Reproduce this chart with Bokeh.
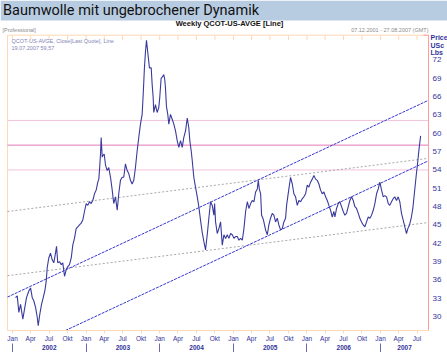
import math
import datetime as dt
from bokeh.plotting import figure
from bokeh.models import Range1d, LinearAxis, FixedTicker, Label, BoxAnnotation
from bokeh.core.properties import value
from bokeh.embed import file_html
from bokeh.resources import INLINE

# ---------------- data ----------------
title_text = "Baumwolle mit ungebrochener Dynamik"
subtitle_text = "Weekly QCOT-US-AVGE [Line]"
left_note = "[Professional]"
range_note = "07.12.2001 - 27.08.2007 (GMT)"
legend_line1 = "QCOT-US-AVGE, Close[Last Quote], Line"
legend_line2 = "19.07.2007 59,57"
unit_labels = ["Price", "USc", "Lbs"]

range_start = "2001-12-07"
range_end = "2007-08-27"

# time as fractional year, weekly closes (US cents / lb)
t_year = [2002.041, 2002.064, 2002.086, 2002.109, 2002.140, 2002.167, 2002.190, 2002.221, 2002.245, 2002.268,
          2002.289, 2002.313, 2002.336, 2002.349, 2002.371, 2002.394, 2002.417, 2002.439, 2002.458, 2002.471,
          2002.493, 2002.516, 2002.539, 2002.561, 2002.584, 2002.598, 2002.615, 2002.639, 2002.662, 2002.683,
          2002.707, 2002.730, 2002.751, 2002.774, 2002.798, 2002.819, 2002.842, 2002.865, 2002.887, 2002.910,
          2002.933, 2002.955, 2002.978, 2003.001, 2003.023, 2003.046, 2003.069, 2003.091, 2003.114, 2003.137,
          2003.159, 2003.173, 2003.186, 2003.196, 2003.205, 2003.219, 2003.230, 2003.246, 2003.264, 2003.287,
          2003.308, 2003.332, 2003.355, 2003.376, 2003.399, 2003.423, 2003.444, 2003.467, 2003.490, 2003.512,
          2003.535, 2003.558, 2003.580, 2003.603, 2003.626, 2003.648, 2003.671, 2003.694, 2003.716, 2003.739,
          2003.762, 2003.776, 2003.793, 2003.807, 2003.821, 2003.838, 2003.861, 2003.885, 2003.898, 2003.912,
          2003.920, 2003.943, 2003.966, 2003.988, 2004.001, 2004.020, 2004.042, 2004.056, 2004.069, 2004.079,
          2004.092, 2004.110, 2004.124, 2004.147, 2004.170, 2004.192, 2004.215, 2004.238, 2004.260, 2004.283,
          2004.306, 2004.327, 2004.351, 2004.374, 2004.395, 2004.409, 2004.428, 2004.442, 2004.463, 2004.486,
          2004.510, 2004.531, 2004.554, 2004.577, 2004.599, 2004.622, 2004.645, 2004.667, 2004.690, 2004.713,
          2004.735, 2004.745, 2004.758, 2004.781, 2004.803, 2004.826, 2004.849, 2004.871, 2004.894, 2004.917,
          2004.939, 2004.962, 2004.985, 2005.007, 2005.030, 2005.053, 2005.075, 2005.098, 2005.121, 2005.143,
          2005.166, 2005.189, 2005.211, 2005.234, 2005.257, 2005.279, 2005.302, 2005.325, 2005.338, 2005.352,
          2005.370, 2005.383, 2005.401, 2005.414, 2005.437, 2005.461, 2005.482, 2005.505, 2005.528, 2005.550,
          2005.573, 2005.596, 2005.618, 2005.641, 2005.664, 2005.686, 2005.709, 2005.723, 2005.741, 2005.754,
          2005.777, 2005.800, 2005.822, 2005.845, 2005.868, 2005.890, 2005.913, 2005.936, 2005.958, 2005.981,
          2006.004, 2006.026, 2006.049, 2006.072, 2006.094, 2006.117, 2006.140, 2006.162, 2006.185, 2006.208,
          2006.230, 2006.253, 2006.276, 2006.298, 2006.321, 2006.344, 2006.366, 2006.380, 2006.402, 2006.425,
          2006.447, 2006.470, 2006.493, 2006.515, 2006.538, 2006.561, 2006.583, 2006.606, 2006.629, 2006.651,
          2006.674, 2006.697, 2006.719, 2006.742, 2006.765, 2006.787, 2006.810, 2006.833, 2006.855, 2006.878,
          2006.901, 2006.923, 2006.946, 2006.969, 2006.991, 2007.014, 2007.037, 2007.059, 2007.082, 2007.105,
          2007.126, 2007.149, 2007.172, 2007.194, 2007.217, 2007.240, 2007.262, 2007.285, 2007.308, 2007.330,
          2007.353, 2007.371, 2007.394, 2007.417, 2007.439, 2007.462, 2007.485, 2007.507, 2007.526, 2007.545]

price = [33.1, 33.4, 30.7, 32.0, 29.6, 31.5, 33.1, 34.2, 34.7, 33.1,
         32.6, 31.5, 29.9, 28.5, 30.4, 32.0, 33.1, 34.2, 35.8, 38.0,
         39.6, 40.4, 39.3, 38.8, 40.4, 41.5, 38.8, 39.0, 38.5, 38.8,
         36.6, 37.7, 38.2, 38.5, 39.6, 41.7, 42.8, 44.4, 44.7, 45.0,
         45.3, 45.8, 47.2, 48.5, 48.2, 48.8, 48.5, 49.0, 50.1, 50.7,
         52.0, 52.5, 54.7, 56.6, 59.3, 56.1, 56.4, 56.6, 54.8, 53.9,
         54.4, 52.8, 50.7, 48.5, 49.6, 47.4, 50.1, 52.3, 52.8, 52.8,
         55.0, 53.9, 53.4, 52.3, 51.7, 52.3, 54.4, 57.1, 59.3, 61.5,
         63.1, 66.3, 70.7, 73.3, 75.2, 73.3, 70.7, 70.7, 68.0, 65.8,
         63.4, 64.7, 63.4, 64.2, 65.8, 69.0, 69.3, 69.6, 68.8, 67.4,
         64.4, 63.1, 61.5, 63.1, 62.3, 61.5, 60.4, 58.8, 57.7, 58.8,
         57.7, 59.3, 60.4, 62.5, 60.9, 58.8, 57.1, 55.5, 52.8, 51.2,
         49.6, 48.0, 45.8, 43.8, 42.3, 40.9, 43.4, 46.1, 48.8, 48.2,
         46.6, 48.5, 45.5, 43.6, 44.4, 45.5, 41.7, 43.4, 42.8, 43.4,
         42.8, 43.6, 43.4, 42.8, 43.1, 43.1, 42.5, 42.8, 42.5, 44.4,
         47.2, 48.8, 47.7, 48.5, 49.0, 48.8, 50.4, 50.9, 52.3, 50.9,
         50.1, 46.6, 46.1, 45.5, 44.2, 43.4, 45.0, 46.1, 46.9, 46.6,
         45.5, 46.1, 45.0, 44.2, 44.4, 45.5, 46.1, 48.2, 49.8, 50.9,
         52.8, 51.7, 50.1, 49.6, 48.2, 49.0, 48.8, 49.3, 49.6, 50.1,
         51.5, 51.2, 52.0, 52.5, 53.1, 52.5, 52.3, 51.7, 50.7, 50.1,
         50.4, 49.6, 49.0, 48.2, 47.4, 46.3, 47.2, 46.3, 47.7, 48.5,
         48.8, 48.0, 47.2, 46.6, 46.9, 48.0, 49.0, 49.6, 49.0, 48.0,
         47.7, 46.9, 46.1, 45.5, 45.0, 44.7, 45.5, 46.3, 46.1, 46.6,
         47.4, 48.5, 50.1, 50.9, 52.0, 50.7, 49.6, 49.8, 49.6, 48.5,
         48.2, 48.8, 49.3, 49.6, 49.0, 49.6, 48.8, 46.9, 45.8, 44.7,
         43.6, 44.4, 45.0, 46.1, 47.7, 50.4, 53.1, 55.5, 57.7, 59.57]

# trend lines: value at range start and at range end
upper_channel = [33.2, 65.4]
lower_channel = [23.3, 55.5]
upper_dotted = [47.2, 55.9]
lower_dotted = [36.7, 45.4]

# horizontal levels
levels = [62.1, 58.06, 54.0]
level_colors = ["#f2c4dc", "#e27ab8", "#f2c4dc"]

# value range of the price panel
y_lo, y_hi = 27.73, 76.05
y_ticks = [30, 33, 36, 39, 42, 45, 48, 51, 54, 57, 60, 63, 66, 69, 72]
month_names = {1: "Jan", 4: "Apr", 7: "Jul", 10: "Okt"}
years = [2002, 2003, 2004, 2005, 2006, 2007]

# ---------------- layout constants (pixels) ----------------
W, H = 447, 352
PL, PR, PT, PB = 7, 428, 35, 333     # price panel edges on the canvas

# ---------------- helpers ----------------
EPOCH = dt.datetime(1970, 1, 1)


def ms(d):
    return int((d - EPOCH).total_seconds() * 1000)


def frac_to_dt(t):
    y = int(t)
    a = dt.datetime(y, 1, 1)
    b = dt.datetime(y + 1, 1, 1)
    return a + (b - a) * (t - y)


d_start = dt.datetime.fromisoformat(range_start)
d_end = dt.datetime.fromisoformat(range_end)
x0, x1 = ms(d_start), ms(d_end)
xs = [ms(frac_to_dt(t)) for t in t_year]

# the plot frame covers the whole canvas above the time axis
sx = (x1 - x0) / (PR - PL)
sy = (y_hi - y_lo) / (PB - PT)
fx0, fx1 = x0 - PL * sx, x1 + (W - PR) * sx
fy0, fy1 = y_lo, y_hi + PT * sy

try:
    Label(x=0, y=0, x_units="canvas", y_units="canvas", text="")
    U = "canvas"
except Exception:
    U = "screen"

NAVY = "#333399"
PEACH = "#ffd8b4"
PINK = "#ff9c9c"
FONT = "Liberation Sans"

p = figure(width=W, height=H, output_backend="svg", toolbar_location=None,
           x_range=Range1d(fx0, fx1), y_range=Range1d(fy0, fy1),
           x_axis_location=None, y_axis_location=None,
           min_border_left=0, min_border_right=0, min_border_top=0, min_border_bottom=H - PB)
p.xgrid.grid_line_color = None
p.ygrid.grid_line_color = None
p.outline_line_color = None
p.background_fill_color = "white"
p.border_fill_color = "white"

# banner
p.add_layout(BoxAnnotation(left=0, right=W, top=0, bottom=20,
                           left_units=U, right_units=U, top_units=U, bottom_units=U,
                           fill_color="#b8cce1", fill_alpha=1, line_color=None, level="underlay"))

# panel outline
p.quad(left=[x0], right=[x1], bottom=[y_lo], top=[y_hi], fill_color=None, line_color=PEACH, line_width=1)

# horizontal levels
p.segment(x0=[x0] * len(levels), x1=[x1] * len(levels), y0=levels, y1=levels,
          line_color=level_colors, line_width=1)

# dotted grey lines
p.line([x0, x1], upper_dotted, line_color="#a8a8a8", line_width=1, line_dash="2 2")
p.line([x0, x1], lower_dotted, line_color="#a8a8a8", line_width=1, line_dash="2 2")
# blue channel (clipped to the panel bottom)
p.line([x0, x1], upper_channel, line_color="#3838d0", line_width=1, line_dash="3 1")
lc_t = (y_lo - lower_channel[0]) / (lower_channel[1] - lower_channel[0])
p.line([x0 + lc_t * (x1 - x0), x1], [y_lo, lower_channel[1]], line_color="#3838d0", line_width=1,
       line_dash="3 1")

# price
p.line(xs, price, line_color="#3a3a9e", line_width=1.1)

# right price scale
p.line([x1, x1], [y_lo, y_hi], line_color=PINK, line_width=1)
p.ray(x=[x1, x1], y=[y_lo, y_hi], length=5, length_units="screen", angle=math.pi,
      line_color=PINK, line_width=1)
p.text(x=[x1] * len(y_ticks), y=y_ticks, text=[str(v) for v in y_ticks], x_offset=4,
       text_baseline="middle", text_align="left", text_font=value(FONT),
       text_font_size=value("8px"), text_color=NAVY)

# ---------------- time axis ----------------
month_ticks = []
month_over = {}
for y in years:
    for m in (1, 4, 7, 10):
        d = dt.datetime(y, m, 1)
        if d_start <= d <= d_end:
            month_ticks.append(ms(d))
            month_over[ms(d)] = month_names[m]

# small tick marks hanging from the top edge
p.ray(x=month_ticks, y=[y_hi] * len(month_ticks), length=5, length_units="screen",
      angle=-math.pi / 2, line_color=PEACH, line_width=1)

max_ax = LinearAxis(ticker=FixedTicker(ticks=month_ticks, minor_ticks=[]),
                    major_label_overrides=month_over, bounds=(x0, x1),
                    major_tick_out=3, major_tick_in=0, minor_tick_out=0, minor_tick_in=0,
                    axis_line_color=PEACH, major_tick_line_color=PEACH,
                    major_label_text_font_size="6.5px", major_label_text_color=NAVY,
                    major_label_standoff=1, major_label_text_font=FONT)
p.add_layout(max_ax, "below")

year_ticks = []
year_over = {}
year_seps = []
for y in years:
    a = max(dt.datetime(y, 1, 1), d_start)
    b = min(dt.datetime(y + 1, 1, 1), d_end)
    mid = ms(a + (b - a) / 2)
    year_ticks.append(mid)
    year_over[mid] = str(y)
    year_seps.append(ms(dt.datetime(y, 1, 1)))

yr_ax = LinearAxis(ticker=FixedTicker(ticks=year_ticks, minor_ticks=year_seps),
                   major_label_overrides=year_over,
                   major_tick_out=0, major_tick_in=0, minor_tick_in=1, minor_tick_out=8,
                   axis_line_color=None, major_tick_line_color=None, minor_tick_line_color="#6a6aa8",
                   major_label_text_font_size="6.5px", major_label_text_color=NAVY,
                   major_label_text_font_style="bold", major_label_standoff=-8,
                   major_label_text_font=FONT)
p.add_layout(yr_ax, "below")

# ---------------- header texts ----------------
p.add_layout(Label(x=2.5, y=1.5, x_units=U, y_units=U, text=title_text, text_baseline="top",
                   text_font="Roboto", text_font_size="14.5px", text_color="#111111"))
p.add_layout(Label(x=229, y=22.5, x_units=U, y_units=U, text=subtitle_text, text_baseline="middle",
                   text_align="center", text_font=FONT, text_font_style="bold",
                   text_font_size="7.5px", text_color="#111111"))
p.add_layout(Label(x=2, y=29, x_units=U, y_units=U, text=left_note, text_baseline="middle",
                   text_font=FONT, text_font_size="5.5px", text_color="#8a8a8a"))
p.add_layout(Label(x=428, y=29, x_units=U, y_units=U, text=range_note, text_baseline="middle",
                   text_align="right", text_font=FONT, text_font_size="5.5px", text_color="#8a8a8a"))
p.add_layout(Label(x=11, y=40.7, x_units=U, y_units=U, text=legend_line1, text_baseline="middle",
                   text_font=FONT, text_font_size="5.5px", text_color="#8585b8"))
p.add_layout(Label(x=11, y=47.3, x_units=U, y_units=U, text=legend_line2, text_baseline="middle",
                   text_font=FONT, text_font_size="5.5px", text_color="#8585b8"))
for i, s in enumerate(unit_labels):
    p.add_layout(Label(x=430, y=37.3 + 7.2 * i, x_units=U, y_units=U, text=s, text_baseline="middle",
                       text_font=FONT, text_font_style="bold", text_font_size="7px",
                       text_color=NAVY))

open("out.html", "w").write(file_html(p, INLINE))
